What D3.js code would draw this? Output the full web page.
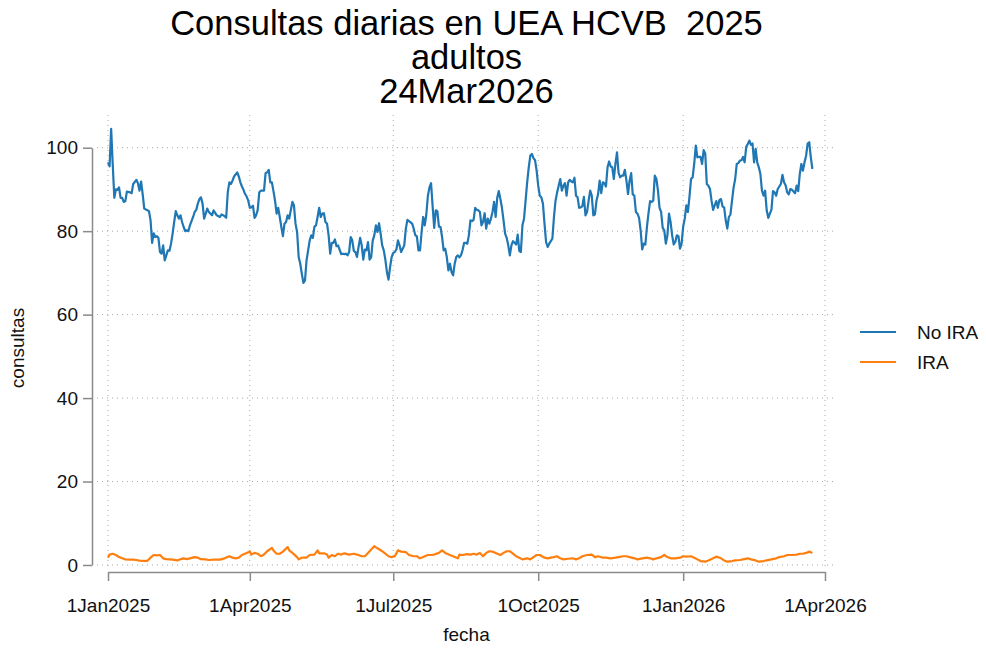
<!DOCTYPE html>
<html>
<head>
<meta charset="utf-8">
<script src="https://cdn.jsdelivr.net/npm/d3@7"></script>
<style>
  html, body { margin: 0; padding: 0; background: #fff; }
  svg { display: block; font-family: "Liberation Sans", Arial, sans-serif; }
</style>
</head>
<body>
<svg id="chart" width="986" height="649"></svg>
<script>
// ---- Data (days since 1 Jan 2025) ----
const titleLines = ["Consultas diarias en UEA HCVB  2025", "adultos", "24Mar2026"];
const seriesNames = ["No IRA", "IRA"];
const seriesColors = ["#1f77b4", "#ff7f0e"];
const yTickValues = [0, 20, 40, 60, 80, 100];
const xTickDates = ["2025-01-01", "2025-04-01", "2025-07-01", "2025-10-01", "2026-01-01", "2026-04-01"];
const xTickLabels = ["1Jan2025", "1Apr2025", "1Jul2025", "1Oct2025", "1Jan2026", "1Apr2026"];

const noIraDays = [0,1,2,3,4,5,6,7,8,9,10,11,12,14,15,16,18,19,20,21,22,23,25,26,27,28,29,30,31,32,33,34,35,36,37,38,39,40,41,42,43,44,45,46,47,48,49,50,51,52,54,55,56,57,58,59,60,61,63,64,66,67,69,71,72,73,74,75,76,77,78,79,80,82,83,84,85,86,87,88,89,90,91,92,93,94,95,96,97,99,100,101,102,103,104,105,106,107,108,109,110,111,112,113,114,115,116,117,118,119,120,121,122,123,124,125,126,128,129,130,131,132,133,134,135,136,137,138,139,140,141,142,143,144,145,146,148,149,150,151,152,153,154,155,156,157,158,159,160,161,162,163,164,165,166,167,168,169,170,171,172,173,174,175,176,177,178,179,180,181,182,183,184,185,186,187,188,189,190,191,193,194,195,196,197,198,199,200,201,202,203,204,205,206,207,208,209,210,211,212,213,214,215,216,217,218,219,220,221,222,223,224,225,226,227,228,229,230,231,232,233,234,235,236,237,238,239,240,241,242,243,244,245,246,247,248,249,250,251,252,253,254,255,256,257,258,259,260,261,262,263,264,265,266,267,268,269,270,271,272,273,274,275,276,277,278,279,280,281,282,283,284,285,286,287,288,289,290,291,292,293,294,295,296,297,298,299,300,301,302,303,304,305,306,307,308,309,310,311,312,313,314,315,316,317,318,319,320,321,322,323,324,325,326,327,328,329,330,331,332,333,334,335,336,337,338,339,340,341,342,343,344,345,346,347,348,349,350,351,352,353,354,355,356,357,358,359,360,361,362,363,364,365,366,367,368,369,370,371,372,373,374,375,376,377,378,379,380,381,382,383,384,385,386,387,388,389,390,391,392,393,394,395,396,397,398,399,400,401,402,403,404,405,406,407,408,409,410,411,412,413,414,415,416,417,418,419,420,421,422,423,424,425,426,427,428,429,430,431,432,433,434,435,436,437,438,439,440,441,442,443,444,445,446,447];
const noIraValues = [96.5,95.5,104.5,96,88,90,89.9,90.5,88,88,87,87.2,89.5,89.3,89.1,91.3,92.3,91.5,89.7,91.9,88.9,85.4,85,84.8,82.6,77.2,79.5,78.6,78.8,78.4,75,74.6,76.6,73,74.2,75.4,75.3,77,79.4,82.2,84.8,83.8,83,83.8,82.2,81,80,80.2,80,81.4,83.4,84.6,85.1,86.6,87.7,88.1,86.6,83,85.4,84.6,83.8,85,83.8,83.4,84,83.8,83.6,83.2,89.3,91.7,91.3,92.1,93.1,94.1,93.1,91.7,90.7,89.9,88.9,88.3,87.3,85.6,85.7,86.1,83.2,83.8,85.1,89.3,89.7,89.7,93.9,94.1,94.7,91.7,91.7,89.6,87.3,84.2,85.6,83.4,81,78.8,81.8,82.2,83.8,83,85,87,86.2,81.8,79.8,73.8,72.2,69.8,67.6,68.2,73,77.8,79,78.4,81.1,81.4,83.4,85.6,83.4,84.2,84.3,82.2,81.8,79,74.6,77.2,77.2,78,76.4,76.6,74.5,74.6,74.5,74.6,74.2,75,78.6,77.8,75.3,75,73.8,76.2,78.4,76.6,73.2,75.6,75.4,77.4,73.2,73.7,77.8,79,81.4,79.8,81.9,79.4,76.6,75.4,73.2,70.2,68.4,71.4,73.8,74.8,75,75.6,77.8,76.6,75,75.8,76.6,80.6,82.7,82.4,81.8,80.6,79,78.8,75.4,75.4,79.8,83.4,81.4,84,88.5,90.5,91.5,86,80.8,85,84.8,81.1,81,78.6,75.4,75.8,73.8,70.6,72.2,70.2,69.4,72.2,73.8,74.2,73.7,74.2,75.5,77.2,77.2,77,79,82.6,82.4,82.7,85.6,85.1,85,84.6,81.4,82.2,84.3,80.6,83,81.8,83,84.6,87,83.4,88,89.6,87.7,85.6,82.6,79.4,78.4,76.6,74.2,76.6,77.6,77.2,76.8,79.2,75.3,75,81.4,83,87.3,91.7,95.3,98.1,98.5,97.5,97,94.5,90.9,88.5,88.1,86.6,81.8,77.4,76.2,77,77.6,78.2,83.4,87.3,89.3,90.9,92.5,89.7,90.9,91.5,88.5,91.7,92.3,91.9,91.7,92.8,88.5,88.1,85.6,85.7,86,88.2,83.8,84.6,87.3,89.7,88.5,83.8,84,87.3,88.9,92.1,89.1,91.7,91.5,90.7,95.3,96.7,95.5,95.3,92.5,96.1,98.9,94,92.9,93.3,93.3,94.7,92.1,88.9,92.1,93.9,88.8,88.5,84.6,84.2,83.2,80.2,75.6,77,76.8,81,84.3,87.2,87,87.3,93.3,92.5,89.7,85.6,84.6,80.8,80.2,77,79,84.2,82.2,79,76.8,77.4,79,78.8,75.8,77,81.1,83,86.2,84.6,88.3,92.5,92.9,96.1,100.5,97.7,97.8,97.8,96.1,99.4,98.6,91.3,90.9,90.1,87.3,85.1,86.2,87.2,85.6,87.5,87.7,85.9,85.7,82.6,80.6,83.4,84,87.3,90.5,92.5,96.1,96.3,96.9,97,97.8,96.5,100.2,100.9,101.7,100.7,101,96.5,99.7,96.5,95.3,93.7,89.7,88.5,89.7,85,83.2,84.2,85.1,89.6,89.3,88.5,90.1,90.7,91.3,93.5,91.7,91,89.3,88.8,90.1,89.9,89.5,89.1,90.9,89.6,93.7,96.1,94.5,96.5,98.1,101,101.3,97.7,94.9];

const iraDays = [0,1,3,5,7,9,11,14,16,18,20,22,25,27,29,31,33,35,37,39,41,44,46,48,50,52,55,57,59,62,64,67,71,74,77,79,81,83,85,88,90,91,93,95,97,99,101,104,105,107,109,111,114,115,117,120,121,123,126,128,131,133,134,137,139,140,142,144,146,148,150,153,156,158,161,163,165,167,169,171,174,176,178,180,182,184,186,189,191,194,196,198,200,203,205,207,210,212,214,217,219,222,223,225,228,230,232,234,236,238,240,242,244,246,249,251,253,255,257,259,261,263,266,268,270,272,274,277,279,281,283,285,287,289,292,295,297,299,301,304,307,309,311,314,316,319,322,324,327,329,331,334,336,339,342,344,346,348,351,353,355,357,360,363,365,367,370,372,374,376,379,381,384,386,389,391,393,396,398,401,403,406,408,411,413,416,418,421,424,426,429,431,434,437,439,441,443,445,447];
const iraValues = [1.75,2.5,2.7,2.4,1.9,1.6,1.35,1.3,1.3,1.2,1.05,1.0,1.0,1.75,2.4,2.3,2.4,1.6,1.4,1.35,1.3,1.1,1.4,1.6,1.4,1.6,1.9,1.75,1.4,1.35,1.2,1.3,1.3,1.6,2.1,1.75,1.6,1.75,2.4,2.9,3.2,2.5,2.9,2.7,2.1,2.5,3.3,4.1,3.5,2.7,2.7,3.2,4.3,3.5,2.9,1.9,1.35,1.75,1.75,2.4,2.5,3.5,2.8,2.8,2.5,1.75,2.4,2.1,2.7,2.5,2.8,2.5,2.7,2.5,2.1,2.1,2.9,3.7,4.5,4.0,3.3,2.7,2.1,1.9,2.1,3.5,3.2,3.1,2.4,2.1,2.1,1.6,1.9,2.4,2.4,2.5,2.9,3.5,2.9,2.4,2.1,1.6,2.5,2.4,2.6,2.5,2.7,2.5,2.9,2.1,2.9,3.3,3.2,2.9,2.4,2.9,3.3,3.3,2.7,2.1,1.75,1.35,1.6,1.35,1.9,2.4,2.4,1.75,1.6,1.75,1.9,2.1,1.6,1.35,1.5,1.6,1.35,1.6,2.1,2.4,2.5,1.9,2.1,1.75,1.75,1.6,1.75,1.9,2.1,2.1,1.9,1.6,1.35,1.6,1.75,1.6,1.35,1.6,1.9,2.4,1.9,1.6,1.6,1.75,2.1,2.0,2.1,1.75,1.35,0.95,0.8,1.1,1.6,2.0,1.6,1.1,0.8,0.95,1.1,1.2,1.35,1.6,1.35,1.1,0.8,0.95,1.1,1.35,1.6,1.9,2.1,2.4,2.4,2.5,2.7,2.7,2.9,3.2,2.9];

// ---- Chart ----
const svg = d3.select("#chart");
const base = new Date(Date.UTC(2025, 0, 1));
const toDate = d => d3.utcDay.offset(base, d);
const parse = d3.utcParse("%Y-%m-%d");
const xTicks = xTickDates.map(parse);

const x = d3.scaleUtc().domain([xTicks[0], xTicks[xTicks.length - 1]]).range([108, 825]);
const y = d3.scaleLinear().domain([0, 100]).range([565, 147.7]);

const plot = { left: 97, right: 836, top: 115, bottom: 570 };
const gridColor = "#a8a8a8";
const axisColor = "#8a8a8a";
const textColor = "#111";

// grid
svg.append("g").selectAll("line").data(yTickValues).join("line")
  .attr("x1", plot.left).attr("x2", plot.right)
  .attr("y1", d => y(d)).attr("y2", d => y(d))
  .attr("stroke", gridColor).attr("stroke-width", 1).attr("stroke-dasharray", "1,4");
svg.append("g").selectAll("line").data(xTicks).join("line")
  .attr("x1", d => x(d)).attr("x2", d => x(d))
  .attr("y1", plot.top).attr("y2", plot.bottom)
  .attr("stroke", gridColor).attr("stroke-width", 1).attr("stroke-dasharray", "1,4");

// y axis
const yAxis = svg.append("g").attr("transform", "translate(92,0)")
  .call(d3.axisLeft(y).tickValues(yTickValues).tickSize(9).tickSizeOuter(0).tickPadding(5));
yAxis.select(".domain").attr("stroke", axisColor).attr("stroke-width", 1.5);
yAxis.selectAll(".tick line").attr("stroke", axisColor).attr("stroke-width", 1.5);
yAxis.selectAll(".tick text").attr("font-size", 19).attr("fill", textColor)
  .attr("font-family", "Liberation Sans, Arial, sans-serif");

// x axis
const labelMap = new Map(xTicks.map((d, i) => [+d, xTickLabels[i]]));
const xAxis = svg.append("g").attr("transform", "translate(0,572)")
  .call(d3.axisBottom(x).tickValues(xTicks).tickFormat(d => labelMap.get(+d))
    .tickSize(9).tickSizeOuter(0).tickPadding(18));
xAxis.select(".domain").attr("stroke", axisColor).attr("stroke-width", 1.5);
xAxis.selectAll(".tick line").attr("stroke", axisColor).attr("stroke-width", 1.5);
xAxis.selectAll(".tick text").attr("font-size", 19).attr("fill", textColor)
  .attr("font-family", "Liberation Sans, Arial, sans-serif");

// lines
const line = d3.line().x(d => x(toDate(d[0]))).y(d => y(d[1]));
const seriesData = [
  d3.zip(noIraDays, noIraValues),
  d3.zip(iraDays, iraValues)
];
seriesData.forEach((s, i) => {
  svg.append("path").datum(s)
    .attr("fill", "none")
    .attr("stroke", seriesColors[i])
    .attr("stroke-width", 2.2)
    .attr("stroke-linejoin", "round")
    .attr("d", line);
});

// titles
svg.append("g").selectAll("text").data(titleLines).join("text")
  .attr("x", 466.5).attr("y", (d, i) => 35 + i * 34)
  .attr("text-anchor", "middle").attr("font-size", 34.5).attr("fill", "#000")
  .style("white-space", "pre")
  .text(d => d);

svg.append("text").attr("x", 466.5).attr("y", 641)
  .attr("text-anchor", "middle").attr("font-size", 19).attr("fill", textColor).text("fecha");
svg.append("text").attr("transform", "translate(24,348) rotate(-90)")
  .attr("text-anchor", "middle").attr("font-size", 19).attr("fill", textColor).text("consultas");

// legend
const legend = svg.append("g");
seriesNames.forEach((name, i) => {
  const ly = 332 + i * 30;
  legend.append("line").attr("x1", 860).attr("x2", 896).attr("y1", ly).attr("y2", ly)
    .attr("stroke", seriesColors[i]).attr("stroke-width", 2.2);
  legend.append("text").attr("x", 917).attr("y", ly + 7)
    .attr("font-size", 19).attr("fill", textColor).text(name);
});
</script>
</body>
</html>
